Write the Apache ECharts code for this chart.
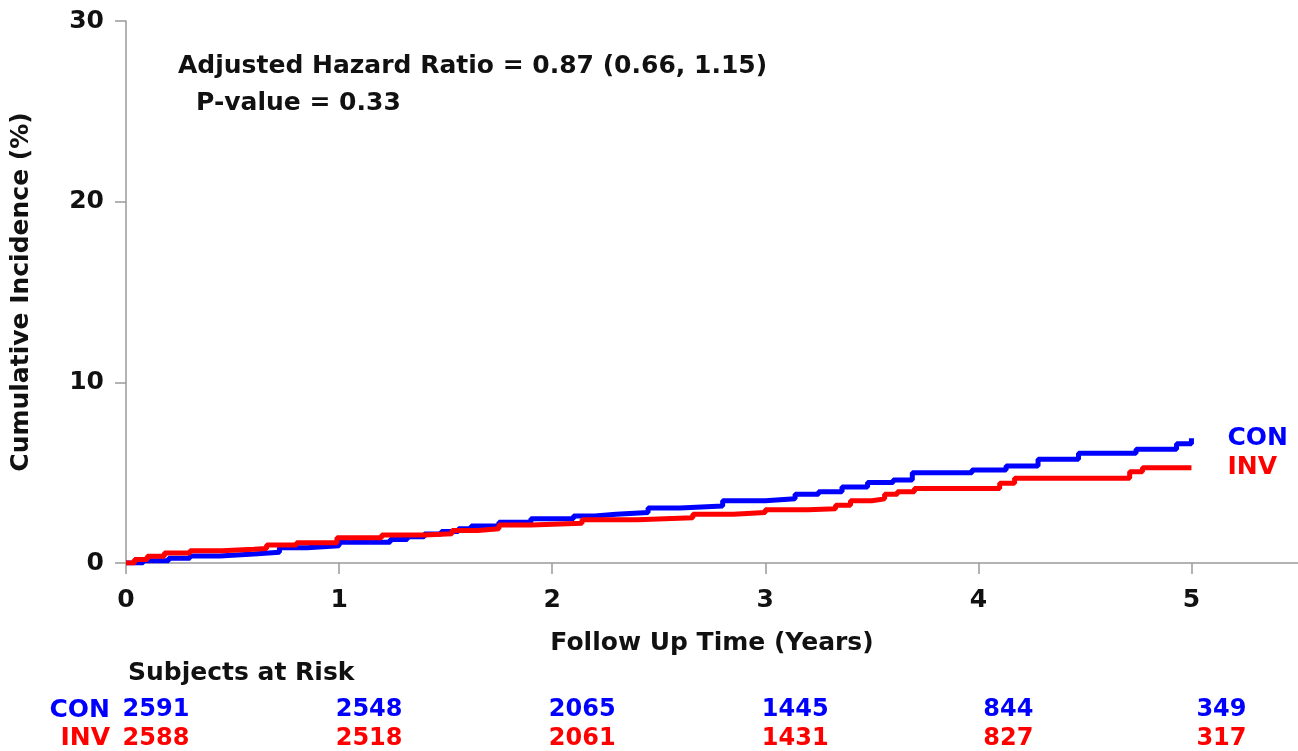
<!DOCTYPE html>
<html>
<head>
<meta charset="utf-8">
<script src="https://cdn.jsdelivr.net/npm/echarts@6/dist/echarts.min.js"></script>
<style>
  html, body { margin: 0; padding: 0; background: #fff; }
  #main { width: 1298px; height: 751px; }
</style>
</head>
<body>
<div id="main"></div>
<script>
// cumulative incidence, step curves (time in years, value in %)
var conTime = [0, 0.08, 0.2, 0.3, 0.44, 0.6, 0.72, 0.85, 1.0, 1.24, 1.32, 1.4, 1.48, 1.56, 1.62, 1.75, 1.9, 2.1, 2.2, 2.3, 2.45, 2.6, 2.8, 3.0, 3.14, 3.25, 3.36, 3.48, 3.6, 3.69, 3.97, 4.13, 4.28, 4.47, 4.74, 4.93, 5.0];
var conInc  = [0, 0.12, 0.26, 0.39, 0.5, 0.6, 0.85, 0.95, 1.15, 1.3, 1.45, 1.6, 1.75, 1.9, 2.05, 2.25, 2.45, 2.6, 2.7, 2.8, 3.05, 3.15, 3.45, 3.55, 3.8, 3.95, 4.2, 4.45, 4.6, 5.0, 5.15, 5.37, 5.74, 6.07, 6.3, 6.6, 6.9];
var invTime = [0, 0.04, 0.1, 0.18, 0.3, 0.45, 0.6, 0.66, 0.8, 0.99, 1.2, 1.4, 1.53, 1.65, 1.75, 1.9, 2.14, 2.4, 2.66, 2.85, 3.0, 3.2, 3.33, 3.4, 3.5, 3.56, 3.62, 3.7, 4.1, 4.17, 4.71, 4.77, 5.0];
var invInc  = [0, 0.2, 0.38, 0.55, 0.68, 0.76, 0.8, 1.0, 1.12, 1.4, 1.55, 1.62, 1.8, 1.9, 2.1, 2.2, 2.4, 2.5, 2.7, 2.8, 2.95, 3.0, 3.2, 3.45, 3.55, 3.8, 3.95, 4.13, 4.41, 4.69, 5.05, 5.27, 5.27];

// subjects at risk table
var xTicks = [0, 1, 2, 3, 4, 5];
var conRisk = [2591, 2548, 2065, 1445, 844, 349];
var invRisk = [2588, 2518, 2061, 1431, 827, 317];
var groups = ['INV', 'CON'];

var BLUE = '#0000ff';
var RED = '#ff0000';
var FONT = 'DejaVu Sans';

function pairs(t, v) {
  var out = [];
  for (var i = 0; i < t.length; i++) out.push([t[i], v[i]]);
  return out;
}
function riskPoints(vals, name) {
  var out = [];
  for (var i = 0; i < xTicks.length; i++) out.push([xTicks[i], name, vals[i]]);
  return out;
}

var chart = echarts.init(document.getElementById('main'));

var riskLabel = function (color) {
  return {
    show: true,
    position: 'inside',
    offset: [30, 0],
    color: color,
    fontFamily: FONT,
    fontWeight: 'bold',
    fontSize: 24,
    formatter: function (p) { return p.value[2]; }
  };
};

var option = {
  backgroundColor: '#fff',
  animation: false,
  textStyle: { fontFamily: FONT },
  grid: [
    { left: 126, right: 0, top: 21, bottom: 188 },
    { left: 126, right: 0, top: 710, height: 32 }
  ],
  xAxis: [{
    type: 'value',
    gridIndex: 0,
    min: 0, max: 5.5, interval: 1,
    name: 'Follow Up Time (Years)',
    nameLocation: 'middle',
    nameGap: 68,
    nameTextStyle: { color: '#111', fontWeight: 'bold', fontSize: 25, fontFamily: FONT },
    axisLine: { lineStyle: { color: '#9a9a9a', width: 1.5 } },
    axisTick: { show: true, length: 11, customValues: xTicks, lineStyle: { color: '#9a9a9a', width: 1.5 } },
    axisLabel: { customValues: xTicks, margin: 25, color: '#111', fontWeight: 'bold', fontSize: 25, fontFamily: FONT },
    splitLine: { show: false }
  }, {
    type: 'value',
    gridIndex: 1,
    min: 0, max: 5.5,
    show: false
  }],
  yAxis: [{
    type: 'value',
    gridIndex: 0,
    min: 0, max: 30, interval: 10,
    name: 'Cumulative Incidence (%)',
    nameLocation: 'middle',
    nameGap: 92,
    nameTextStyle: { color: '#111', fontWeight: 'bold', fontSize: 25, fontFamily: FONT },
    axisLine: { show: true, lineStyle: { color: '#9a9a9a', width: 1.5 } },
    axisTick: { show: true, length: 11, lineStyle: { color: '#9a9a9a', width: 1.5 } },
    axisLabel: { margin: 22, color: '#111', fontWeight: 'bold', fontSize: 25, fontFamily: FONT },
    splitLine: { show: false }
  }, {
    type: 'category',
    gridIndex: 1,
    data: groups,
    boundaryGap: false,
    axisLine: { show: false },
    axisTick: { show: false },
    axisLabel: {
      interval: 0,
      margin: 16,
      fontWeight: 'bold',
      fontSize: 25,
      fontFamily: FONT,
      formatter: function (v) { return '{' + v + '|' + v + '}'; },
      rich: {
        CON: { color: BLUE, fontWeight: 'bold', fontSize: 25, fontFamily: FONT },
        INV: { color: RED, fontWeight: 'bold', fontSize: 25, fontFamily: FONT }
      }
    }
  }],
  graphic: [
    { type: 'text', left: 178, top: 54, style: { text: 'Adjusted Hazard Ratio = 0.87 (0.66, 1.15)', fill: '#111', font: 'bold 25px "DejaVu Sans"' } },
    { type: 'text', left: 196, top: 91, style: { text: 'P-value = 0.33', fill: '#111', font: 'bold 25px "DejaVu Sans"' } },
    { type: 'text', left: 128, top: 661, style: { text: 'Subjects at Risk', fill: '#111', font: 'bold 25px "DejaVu Sans"' } }
  ],
  series: [{
    name: 'CON',
    type: 'line',
    xAxisIndex: 0, yAxisIndex: 0,
    step: 'end',
    showSymbol: false,
    data: pairs(conTime, conInc),
    lineStyle: { color: BLUE, width: 5 },
    itemStyle: { color: BLUE },
    endLabel: { show: true, formatter: '{a}', distance: 36, color: BLUE, fontWeight: 'bold', fontSize: 25, fontFamily: FONT }
  }, {
    name: 'INV',
    type: 'line',
    xAxisIndex: 0, yAxisIndex: 0,
    step: 'end',
    showSymbol: false,
    data: pairs(invTime, invInc),
    lineStyle: { color: RED, width: 5 },
    itemStyle: { color: RED },
    endLabel: { show: true, formatter: '{a}', distance: 36, color: RED, fontWeight: 'bold', fontSize: 25, fontFamily: FONT }
  }, {
    name: 'CON at risk',
    type: 'scatter',
    xAxisIndex: 1, yAxisIndex: 1,
    symbolSize: 0,
    itemStyle: { opacity: 1 },
    data: riskPoints(conRisk, 'CON'),
    label: riskLabel(BLUE)
  }, {
    name: 'INV at risk',
    type: 'scatter',
    xAxisIndex: 1, yAxisIndex: 1,
    symbolSize: 0,
    itemStyle: { opacity: 1 },
    data: riskPoints(invRisk, 'INV'),
    label: riskLabel(RED)
  }]
};

chart.setOption(option);
</script>
</body>
</html>
